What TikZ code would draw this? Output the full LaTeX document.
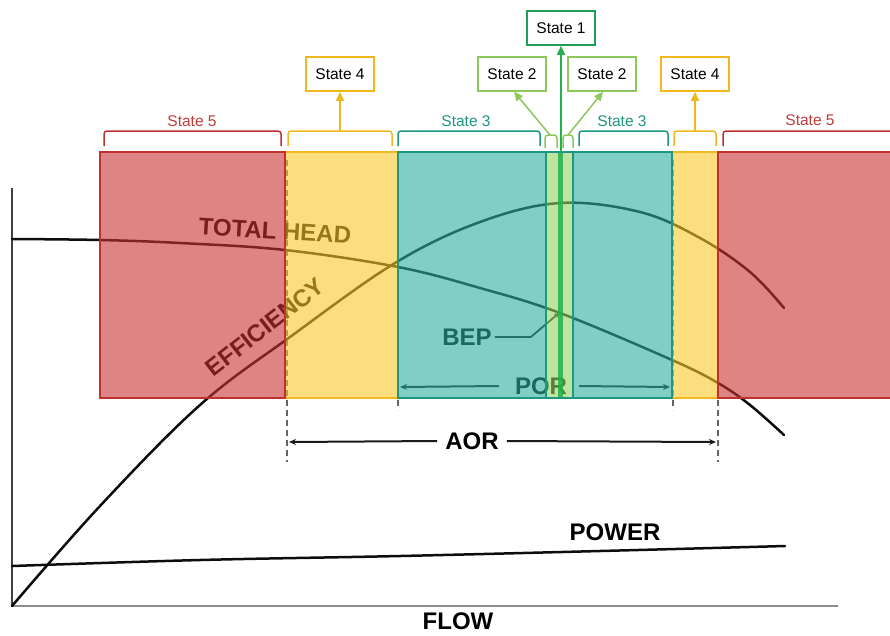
\documentclass[tikz,border=0pt]{standalone}
\usepackage{fontspec}
\setmainfont{Liberation Sans}
\usetikzlibrary{arrows.meta}
\definecolor{redfill}{RGB}{200,50,50}
\definecolor{redline}{RGB}{192,48,48}
\definecolor{yelfill}{RGB}{252,200,40}
\definecolor{yelline}{RGB}{240,184,30}
\definecolor{tealfill}{RGB}{42,175,157}
\definecolor{tealline}{RGB}{30,150,130}
\definecolor{lgfill}{RGB}{147,210,97}
\definecolor{lgline}{RGB}{140,200,90}
\definecolor{dgreen}{RGB}{30,160,85}
\definecolor{stripe}{RGB}{34,177,76}
\definecolor{statefive}{RGB}{190,60,60}
\definecolor{statethree}{RGB}{30,150,130}
\begin{document}
\begin{tikzpicture}[x=1pt,y=-1pt,
  curve/.style={line width=2.5pt, black!95, line cap=round},
  guide/.style={gray!80!black, line width=1.2pt, dash pattern=on 6pt off 4pt},
  dim/.style={line width=2pt, black!90, -{Stealth[length=7pt,width=6pt]}},
  lbl/.style={font=\bfseries\fontsize{24}{24}\selectfont, inner sep=0pt},
  statebox/.style={draw, line width=1.5pt, fill=white, minimum width=68pt, minimum height=34pt, inner sep=0pt, font=\fontsize{15.5}{16}\selectfont},
  statetxt/.style={inner sep=0pt, font=\fontsize{15.5}{16}\selectfont},
  band/.style={fill opacity=0.6},
  edge/.style={line width=1.5pt},
  brk/.style={line width=1.5pt, rounded corners=3pt},
  tip/.style={-{Triangle[length=9pt,width=8pt]}, line width=1.5pt}
]
\useasboundingbox (0,0) rectangle (890,635);

% axes
\draw[line width=1.8pt, black!75] (12,188) -- (12,606);
\draw[line width=2.2pt, black!45] (12,606) -- (838,606);

% operating range guides
\draw[guide] (287,160) -- (287,462);
\draw[guide] (718,160) -- (718,462);
\draw[guide] (398,160) -- (398,410);
\draw[guide] (673,160) -- (673,410);

% pump curves
\draw[curve] plot[smooth, tension=0.6] coordinates {(12,606) (100,506) (200,405) (290,337) (395,263) (480,222) (560,203) (640,212) (700,238) (750,272) (784,308)};
\draw[curve] plot[smooth, tension=0.6] coordinates {(12,239) (100,240) (180,243) (285,250) (398,267) (480,288) (560,313) (672,360) (718,383) (750,405) (784,435)};
\draw[curve] plot[smooth, tension=0.6] coordinates {(12,566) (200,560) (400,556) (600,551) (785,546)};

% curve labels
\node[lbl, rotate=-3.5] (headlbl) at (275,231) {TOTAL HEAD};
\node[lbl, rotate=38] (efflbl) at (265,327) {EFFICIENCY};
\node[lbl] (powerlbl) at (615,532) {POWER};
\node[lbl] (flowlbl) at (458,621) {FLOW};

% best efficiency point
\node[lbl] (bep) at (467,337) {BEP};
\coordinate (bepPt) at (559,313);
\draw[line width=1.8pt, black!90, -{Stealth[length=5pt,width=5pt]}] ([xshift=3pt]bep.east) -- ++(36,0) -- (bepPt);

% preferred operating region
\node[lbl] (por) at (541,386) {POR};
\coordinate (porL) at (400,387);
\coordinate (porR) at (670,387);
\draw[dim] ([xshift=-16pt]por.west) -- (porL);
\draw[dim] ([xshift=12pt]por.east) -- (porR);

% allowable operating region
\node[lbl] (aor) at (472,441) {AOR};
\coordinate (aorL) at (289,442);
\coordinate (aorR) at (716,442);
\draw[dim] ([xshift=-8pt]aor.west) -- (aorL);
\draw[dim] ([xshift=8pt]aor.east) -- (aorR);

% state bands
\fill[yelfill, band] (285,152) rectangle (398,398);
\fill[yelfill, band] (672,152) rectangle (718,398);
\fill[redfill, band] (100,152) rectangle (285,398);
\fill[redfill, band] (718,152) rectangle (892,398);
\fill[tealfill, band] (398,152) rectangle (546,398);
\fill[tealfill, band] (573,152) rectangle (672,398);
\fill[lgfill, band] (546,152) rectangle (573,398);
\fill[stripe, opacity=0.85] (558,152) rectangle (563,398);

\draw[edge, yelline] (285,152) rectangle (398,398);
\draw[edge, yelline] (672,152) rectangle (718,398);
\draw[edge, redline] (100,152) rectangle (285,398);
\draw[edge, redline] (892,152) -- (718,152) -- (718,398) -- (892,398);
\draw[edge, tealline] (398,152) rectangle (546,398);
\draw[edge, tealline] (573,152) rectangle (672,398);
\draw[edge, tealline] (546,152) rectangle (573,398);

% brackets
\draw[brk, redline] (104,146) -- (104,131) -- (281,131) -- (281,146);
\draw[brk, yelline] (288,146) -- (288,131) -- (392,131) -- (392,146);
\draw[brk, tealline] (398,146) -- (398,131) -- (540,131) -- (540,146);
\draw[brk, lgline] (545,148) -- (545,135) -- (557,135) -- (557,148);
\draw[brk, lgline] (563,148) -- (563,135) -- (573,135) -- (573,148);
\draw[brk, tealline] (579,146) -- (579,131) -- (668,131) -- (668,146);
\draw[brk, yelline] (674,146) -- (674,131) -- (716,131) -- (716,146);
\draw[brk, redline] (723,146) -- (723,131) -- (895,131);

\node[statetxt, text=statefive] (s5a) at (192,121) {State 5};
\node[statetxt, text=statethree] (s3a) at (466,121) {State 3};
\node[statetxt, text=statethree] (s3b) at (622,121) {State 3};
\node[statetxt, text=statefive] (s5b) at (810,120) {State 5};

% state boxes
\node[statebox, draw=yelline] (s4a) at (340,74) {State 4};
\node[statebox, draw=lgline] (s2a) at (512,74) {State 2};
\node[statebox, draw=dgreen] (s1) at (561,28) {State 1};
\node[statebox, draw=lgline] (s2b) at (602,74) {State 2};
\node[statebox, draw=yelline] (s4b) at (695,74) {State 4};

\coordinate (b4a) at (340,131);
\coordinate (b4b) at (695,131);
\coordinate (b2a) at (550,135);
\coordinate (b2b) at (568,135);
\coordinate (b1) at (561,152);
\draw[tip, yelline] (b4a) -- (s4a.south);
\draw[tip, yelline] (b4b) -- (s4b.south);
\draw[tip, lgline] (b2a) -- ([xshift=2pt]s2a.south);
\draw[tip, lgline] (b2b) -- ([xshift=1pt]s2b.south);
\draw[tip, stripe] (b1) -- (s1.south);
\end{tikzpicture}
\end{document}
